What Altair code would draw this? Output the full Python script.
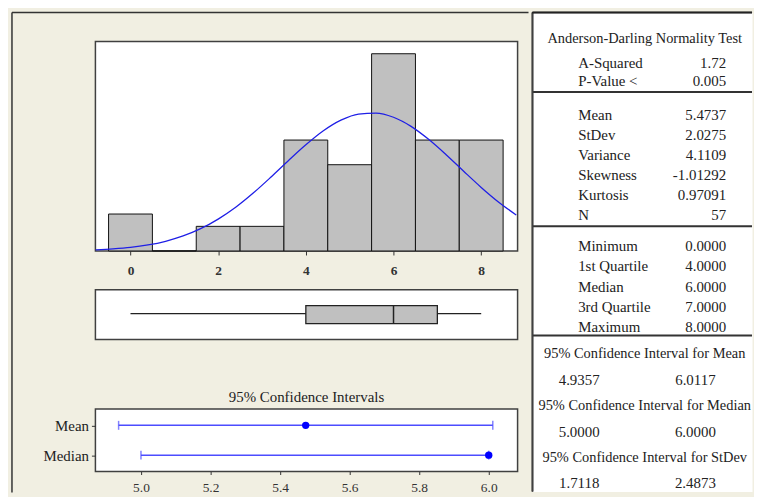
import altair as alt
import pandas as pd

# ------------------------------------------------------------------ data
bin_centers = [0, 1, 2, 3, 4, 5, 6, 7, 8]
bin_counts = [3, 0, 2, 2, 9, 7, 16, 9, 9]

# fitted normal curve (in count units)
curve_x = [-0.8, -0.4, 0.0, 0.4, 0.8, 1.2, 1.6, 2.0, 2.4, 2.8, 3.2, 3.6, 4.0,
           4.4, 4.8, 5.2, 5.6, 6.0, 6.4, 6.8, 7.2, 7.6, 8.0, 8.4, 8.8]
curve_y = [0.09, 0.17, 0.29, 0.49, 0.79, 1.22, 1.81, 2.59, 3.55, 4.70, 5.98,
           7.32, 8.61, 9.75, 10.61, 11.11, 11.19, 10.85, 10.11, 9.06, 7.81,
           6.47, 5.16, 3.96, 2.92]

box_names = ["min", "q1", "median", "q3", "max"]
box_values = [0, 4, 6, 7, 8]

ci_names = ["Mean", "Median"]
ci_low = [4.9357, 5.0]
ci_high = [6.0117, 6.0]
ci_est = [5.4737, 6.0]

ad_title = "Anderson-Darling Normality Test"
ad_labels = ["A-Squared", "P-Value <"]
ad_values = ["1.72", "0.005"]
desc_labels = ["Mean", "StDev", "Variance", "Skewness", "Kurtosis", "N"]
desc_values = ["5.4737", "2.0275", "4.1109", "-1.01292", "0.97091", "57"]
quart_labels = ["Minimum", "1st Quartile", "Median", "3rd Quartile", "Maximum"]
quart_values = ["0.0000", "4.0000", "6.0000", "7.0000", "8.0000"]
ci_titles = ["95% Confidence Interval for Mean",
             "95% Confidence Interval for Median",
             "95% Confidence Interval for StDev"]
ci_tab_low = ["4.9357", "5.0000", "1.7118"]
ci_tab_high = ["6.0117", "6.0000", "2.4873"]

# ------------------------------------------------------------------ style
FONT = "Liberation Serif"
BEIGE = "#F1EFE2"
FRAME = "#404040"
TXT = "#222222"
PANEL = alt.ViewBackground(fill="white", stroke=FRAME, strokeWidth=1.5)
W = 425          # width of the three left panels
GAP = 11         # beige gap between left column and the statistics panel
MARGIN_L = 84    # beige margin left of the plot panels


def spacer(h):
    return (
        alt.Chart(pd.DataFrame({"s": [0]}))
        .mark_point(opacity=0, size=1)
        .encode(x=alt.value(200), y=alt.value(h / 2))
        .properties(width=W, height=h,
                    view=alt.ViewBackground(stroke="transparent"))
    )


# top spacer carries the outer frame lines of the beige panel
frame_df = pd.DataFrame({"s": [0]})
outer_top = alt.Chart(frame_df).mark_rule(color="#333333", strokeWidth=1.5).encode(
    x=alt.value(-MARGIN_L), x2=alt.value(W + GAP), y=alt.value(0))
outer_left = alt.Chart(frame_df).mark_rule(color="#333333", strokeWidth=1.5).encode(
    x=alt.value(-MARGIN_L), y=alt.value(0), y2=alt.value(483))
top_space = alt.layer(outer_top, outer_left).properties(
    width=W, height=29, view=alt.ViewBackground(stroke="transparent"))

# ------------------------------------------------------------------ histogram
hist_df = pd.DataFrame({"center": bin_centers, "count": bin_counts})
hist_df["lo"] = hist_df["center"] - 0.5
hist_df["hi"] = hist_df["center"] + 0.5
curve_df = pd.DataFrame({"x": curve_x, "y": curve_y})

xs = alt.Scale(domain=[-0.8, 8.83], nice=False, zero=False, padding=0)
ys = alt.Scale(domain=[0, 17], nice=False)

bars = alt.Chart(hist_df).mark_bar(
    fill="#C0C0C0", stroke="#111111", strokeWidth=1, orient="vertical"
).encode(
    x=alt.X("lo:Q", scale=xs,
            axis=alt.Axis(values=[0, 2, 4, 6, 8], title=None, grid=False,
                          domain=False, tickSize=4, tickColor="#333333",
                          labelPadding=9, labelFont=FONT, labelFontSize=13.5,
                          labelFontWeight="bold", labelColor="#333333")),
    x2="hi:Q",
    y=alt.Y("count:Q", scale=ys, axis=None),
    y2=alt.datum(0),
)
curve = alt.Chart(curve_df).mark_line(
    color="#1f1fe6", strokeWidth=1.3, clip=True, interpolate="monotone"
).encode(
    x=alt.X("x:Q", scale=xs),
    y=alt.Y("y:Q", scale=ys),
)
hist = alt.layer(bars, curve).properties(width=W, height=211, view=PANEL)

# ------------------------------------------------------------------ box plot
box_df = pd.DataFrame([dict(zip(box_names, box_values))])
whisker = alt.Chart(box_df).mark_rule(color="#222222", strokeWidth=1.3).encode(
    x=alt.X("min:Q", scale=xs, axis=None), x2="max:Q", y=alt.value(24))
box = alt.Chart(box_df).mark_bar(
    fill="#C0C0C0", stroke="#222222", strokeWidth=1.3
).encode(x=alt.X("q1:Q", scale=xs, axis=None), x2="q3:Q",
         y=alt.value(16), y2=alt.value(34))
med = alt.Chart(box_df).mark_rule(color="#222222", strokeWidth=1.5).encode(
    x=alt.X("median:Q", scale=xs, axis=None), y=alt.value(16), y2=alt.value(34))
boxplot = alt.layer(whisker, box, med).properties(width=W, height=50, view=PANEL)

# ------------------------------------------------------------------ CI chart
ci_df = pd.DataFrame({"name": ci_names, "lo": ci_low, "hi": ci_high,
                      "est": ci_est})
cs = alt.Scale(domain=[4.869, 6.083], nice=False, zero=False, padding=0)
cy = alt.Y("name:N", scale=alt.Scale(type="point", domain=ci_names, padding=0.55),
           axis=alt.Axis(title=None, domain=False, tickSize=4,
                         tickColor="#333333", labelPadding=3, labelFont=FONT,
                         labelFontSize=15, labelColor=TXT))
ci_line = alt.Chart(ci_df).mark_rule(color="#4d4dff", strokeWidth=1.5).encode(
    x=alt.X("lo:Q", scale=cs,
            axis=alt.Axis(values=[5.0, 5.2, 5.4, 5.6, 5.8, 6.0], format=".1f",
                          title=None, grid=False, domain=False, tickSize=3,
                          tickColor="#333333", labelPadding=6, labelFont=FONT,
                          labelFontSize=13.5, labelColor="#333333")),
    x2="hi:Q", y=cy)
cap_lo = alt.Chart(ci_df).mark_tick(color="#4d4dff", thickness=1.5, size=9).encode(
    x=alt.X("lo:Q", scale=cs), y=cy)
cap_hi = alt.Chart(ci_df).mark_tick(color="#4d4dff", thickness=1.5, size=9).encode(
    x=alt.X("hi:Q", scale=cs), y=cy)
ci_pt = alt.Chart(ci_df).mark_circle(color="#0000ff", size=55, opacity=1).encode(
    x=alt.X("est:Q", scale=cs), y=cy)
ci_chart = alt.layer(ci_line, cap_lo, cap_hi, ci_pt).properties(
    width=W, height=63, view=PANEL,
    title=alt.TitleParams("95% Confidence Intervals", font=FONT, fontSize=15,
                          fontWeight="normal", color=TXT, offset=4))

left = alt.vconcat(top_space, hist, spacer(39), boxplot, spacer(70), ci_chart,
                   spacing=0, bounds="flush")

# ------------------------------------------------------------------ stats table
PW, PH = 221, 482
TITLE_Y = 27
ad_y = [51 + 18 * i for i in range(len(ad_labels))]
desc_y = [103 + 20.2 * i for i in range(len(desc_labels))]
quart_y = [235 + 20.5 * i for i in range(len(quart_labels))]
sep_y = [80, 215, 325]
ci_title_y = [344 + 52 * i for i in range(len(ci_titles))]
ci_val_y = [t + 26 for t in ci_title_y]

tys = alt.Scale(domain=[0, PH], reverse=True, nice=False, zero=False)

lab_df = pd.DataFrame({"t": ad_labels + desc_labels + quart_labels,
                       "y": ad_y + desc_y + quart_y})
val_df = pd.DataFrame({"t": ad_values + desc_values + quart_values,
                       "y": ad_y + desc_y + quart_y})
ttl_df = pd.DataFrame({"t": [ad_title] + ci_titles, "y": [TITLE_Y] + ci_title_y})
lo_df = pd.DataFrame({"t": ci_tab_low, "y": ci_val_y})
hi_df = pd.DataFrame({"t": ci_tab_high, "y": ci_val_y})
sep_df = pd.DataFrame({"y": sep_y})


def txt(df, align, xpos, size=15):
    return alt.Chart(df).mark_text(
        align=align, baseline="middle", font=FONT, fontSize=size, color=TXT
    ).encode(x=alt.value(xpos), y=alt.Y("y:Q", scale=tys, axis=None), text="t:N")


seps = alt.Chart(sep_df).mark_rule(color="#333333", strokeWidth=2).encode(
    x=alt.value(0), x2=alt.value(PW), y=alt.Y("y:Q", scale=tys, axis=None))
border_left = alt.Chart(sep_df).mark_rule(color=FRAME, strokeWidth=1.5).encode(
    x=alt.value(0), y=alt.value(0), y2=alt.value(PH))
border_top = alt.Chart(sep_df).mark_rule(color="#222222", strokeWidth=1.5).encode(
    x=alt.value(0), x2=alt.value(PW), y=alt.value(0))

right = alt.layer(
    seps, border_left, border_top,
    txt(lab_df, "left", 46), txt(val_df, "right", 195),
    txt(ttl_df, "center", 113, 14.5), txt(lo_df, "center", 47),
    txt(hi_df, "center", 164),
).properties(width=PW, height=PH,
             view=alt.ViewBackground(fill="white", stroke="transparent"))

chart = alt.hconcat(left, right, spacing=0).properties(
    padding={"left": 2, "top": 1, "right": 0, "bottom": 0}
).configure(background=BEIGE).configure_view(stroke="transparent")

chart.save("out.html", embed_options={"renderer": "svg", "actions": False})
